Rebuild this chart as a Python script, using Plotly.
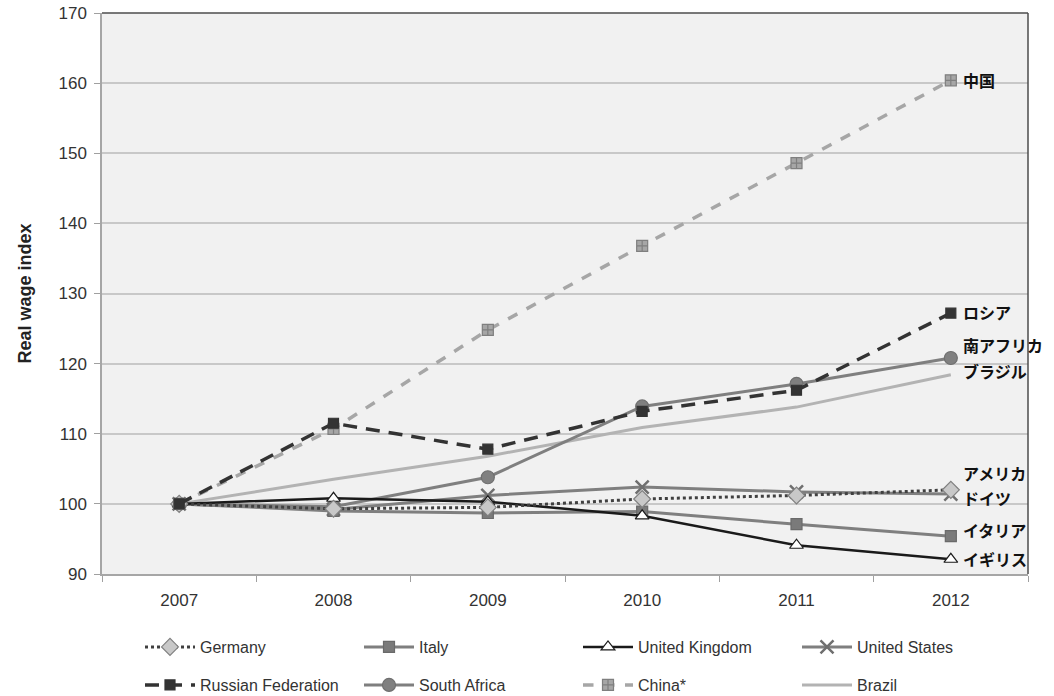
import plotly.graph_objects as go

years = ["2007", "2008", "2009", "2010", "2011", "2012"]

germany = [100, 99.3, 99.5, 100.7, 101.2, 102.0]
italy = [100, 99.0, 98.7, 98.9, 97.1, 95.4]
uk = [100, 100.8, 100.3, 98.3, 94.1, 92.1]
usa = [100, 99.2, 101.2, 102.4, 101.7, 101.4]
russia = [100, 111.5, 107.8, 113.2, 116.2, 127.2]
south_africa = [100, 99.6, 103.8, 113.9, 117.1, 120.8]
china = [100, 110.7, 124.8, 136.8, 148.6, 160.4]
brazil = [100, 103.5, 106.8, 110.9, 113.8, 118.4]

label_texts = ["中国", "ロシア", "南アフリカ", "ブラジル", "アメリカ", "ドイツ", "イタリア", "イギリス"]
label_values = [160.5, 127.4, 122.6, 119.0, 104.4, 100.9, 96.3, 92.1]

y_ticks = [90, 100, 110, 120, 130, 140, 150, 160, 170]

font_main = "Liberation Sans Narrow, Liberation Sans, Arial, sans-serif"
font_cjk = "Noto Sans CJK JP, sans-serif"

fig = go.Figure()

row1 = ["Germany", "Italy", "United Kingdom", "United States"]
legend_order = ["Germany", "Italy", "United Kingdom", "United States",
                "Russian Federation", "South Africa", "China*", "Brazil"]

def add(name, y, color, width, dash, symbol, mcolor, mline, msize=11, mode="lines+markers", mlw=1.2):
    fig.add_trace(go.Scatter(
        x=years, y=y, name=name, mode=mode,
        legend="legend" if name in row1 else "legend2",
        legendrank=legend_order.index(name) + 1,
        line=dict(color=color, width=width, dash=dash),
        marker=dict(symbol=symbol, color=mcolor, size=msize,
                    line=dict(color=mline, width=mlw)),
    ))

add("Brazil", brazil, "#b3b3b3", 3, "solid", "circle", "#b3b3b3", "#b3b3b3", mode="lines")
add("South Africa", south_africa, "#7f7f7f", 3, "solid", "circle", "#808080", "#6f6f6f", msize=13)
add("United States", usa, "#7f7f7f", 3, "solid", "x-thin", "#6f6f6f", "#6f6f6f", msize=13, mlw=2.5)
add("Italy", italy, "#7f7f7f", 3, "solid", "square", "#7a7a7a", "#6a6a6a", msize=11)
add("United Kingdom", uk, "#1a1a1a", 2.5, "solid", "triangle-up", "#ffffff", "#1a1a1a", msize=12)
add("Germany", germany, "#404040", 3, "dot", "diamond", "#c8c8c8", "#808080", msize=13)
add("China*", china, "#a6a6a6", 3.5, "dash", "square-cross", "#a6a6a6", "#7f7f7f", msize=11)
add("Russian Federation", russia, "#333333", 3.5, "14px,9px", "square", "#333333", "#333333", msize=10)

for t, v in zip(label_texts, label_values):
    fig.add_annotation(xref="x", yref="y", x=5, y=v, text="<b>%s</b>" % t, showarrow=False,
                       xanchor="left", xshift=10, yanchor="middle",
                       font=dict(family=font_cjk, size=16, color="#111111"))

# plot frame lines (top and right)
fig.add_shape(type="line", xref="paper", yref="paper", x0=1, x1=1, y0=0, y1=1,
              line=dict(color="#4d4d4d", width=1.5))
fig.add_shape(type="line", xref="paper", yref="paper", x0=0, x1=1, y0=1, y1=1,
              line=dict(color="#4d4d4d", width=1.5))

leg_common = dict(orientation="h", xref="container", yref="container",
                  x=140 / 1054, xanchor="left", yanchor="middle",
                  entrywidth=154, entrywidthmode="pixels", itemwidth=50,
                  font=dict(family=font_main, size=16, color="#333333"),
                  traceorder="normal", bgcolor="rgba(0,0,0,0)")

fig.update_layout(
    width=1054, height=696,
    margin=dict(l=102, r=26, t=13, b=122, autoexpand=False),
    paper_bgcolor="white", plot_bgcolor="#f1f1f1",
    font=dict(family=font_main, size=16, color="#333333"),
    showlegend=True,
    legend=dict(**leg_common, y=1 - 647 / 696),
    legend2=dict(**leg_common, y=1 - 685 / 696),
    xaxis=dict(type="category", range=[-0.5, 5.5], showgrid=False, automargin=False,
               ticks="outside", tickson="boundaries", ticklen=6, tickcolor="#a0a0a0",
               ticklabelstandoff=10,
               showline=True, linecolor="#a6a6a6", linewidth=1.5,
               tickfont=dict(size=17, color="#333333"), zeroline=False),
    yaxis=dict(range=[90, 170], tickvals=y_ticks, showgrid=True, automargin=False,
               gridcolor="#c8c8c8", gridwidth=1.5,
               ticks="outside", ticklen=6, tickcolor="#a0a0a0",
               ticklabelstandoff=4,
               showline=True, linecolor="#a6a6a6", linewidth=1.5,
               tickfont=dict(size=17, color="#333333"), zeroline=False,
               title=dict(text="<b>Real wage index</b>", standoff=22,
                          font=dict(family="Liberation Sans, Arial, sans-serif", size=18, color="#222222"))),
)

fig.write_html("out.html", config={"displayModeBar": False},
               post_script="document.body.style.margin='0';document.body.style.overflow='hidden';")
